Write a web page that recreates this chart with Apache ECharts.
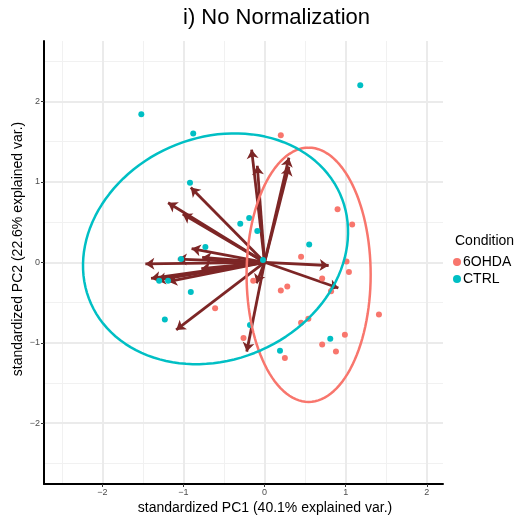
<!DOCTYPE html>
<html>
<head>
<meta charset="utf-8">
<script src="https://cdn.jsdelivr.net/npm/echarts@6/dist/echarts.min.js"></script>
<style>
  html, body { margin: 0; padding: 0; background: #fff; }
  #chart { width: 518px; height: 520px; }
</style>
</head>
<body>
<div id="chart"></div>
<script>
// groups
const groups = ['6OHDA', 'CTRL'];

// sample scores (PC1, PC2)
const ohdaPC1 = [0.20, 0.90, 1.08, 0.45, 1.01, 1.04, 0.71, 0.28, 0.20, 0.82, -0.14, 1.41, 0.54, 0.45, 0.99, 0.71, 0.88, 0.25, -0.26, -0.61];
const ohdaPC2 = [1.58, 0.66, 0.47, 0.07, 0.01, -0.12, -0.20, -0.30, -0.35, -0.36, -0.23, -0.65, -0.70, -0.75, -0.90, -1.02, -1.11, -1.19, -0.94, -0.57];
const ctrlPC1 = [-1.52, -0.88, 1.18, -0.92, -0.30, -0.19, -0.09, -0.73, -1.03, -0.02, 0.55, -1.30, -1.19, -0.91, -1.23, -0.18, 0.81, 0.19];
const ctrlPC2 = [1.84, 1.60, 2.20, 0.99, 0.48, 0.55, 0.39, 0.19, 0.04, 0.03, 0.22, -0.23, -0.23, -0.37, -0.71, -0.78, -0.95, -1.10];

// variable loadings (arrow tips)
const loadPC1 = [-0.16, -0.09, 0.30, 0.30, -1.19, -1.01, -0.91, -0.90, -1.07, -1.47, -1.40, -1.33, -1.19, -0.78, -0.77, -1.09, -0.22, -0.10, 0.79, 0.91];
const loadPC2 = [1.40, 1.20, 1.30, 1.19, 0.74, 0.60, 0.93, 0.17, 0.04, -0.02, -0.20, -0.22, -0.24, -0.08, 0.06, -0.84, -1.11, -0.26, -0.04, -0.32];

// group ellipses: centre x, centre y, semi-axis a, semi-axis b, angle (deg)
const ohdaEllipse = [0.543, -0.155, 1.58, 0.765, 90];
const ctrlEllipse = [-0.605, 0.168, 1.68, 1.38, 24];

// ticks
const xTicks = [-2, -1, 0, 1, 2];
const yTicks = [-2, -1, 0, 1, 2];
const xMinor = [-2.5, -1.5, -0.5, 0.5, 1.5];
const yMinor = [-2.5, -1.5, -0.5, 0.5, 1.5, 2.5];

const colors = { '6OHDA': '#F8766D', 'CTRL': '#00BFC4' };
const arrowColor = '#7d2626';
const font = '"Liberation Sans", Arial, sans-serif';

function zip(a, b) {
  return a.map((v, i) => [v, b[i]]);
}

function ellipsePoints(e) {
  const [cx, cy, a, b, deg] = e;
  const th = deg * Math.PI / 180;
  const pts = [];
  const n = 120;
  for (let i = 0; i <= n; i++) {
    const t = 2 * Math.PI * i / n;
    pts.push([
      cx + a * Math.cos(t) * Math.cos(th) - b * Math.sin(t) * Math.sin(th),
      cy + a * Math.cos(t) * Math.sin(th) + b * Math.sin(t) * Math.cos(th)
    ]);
  }
  return pts;
}

const minus = v => String(v).replace('-', '\u2212');

// grid lines as markLines
const minorStyle = { color: '#f1f1f1', width: 1, type: 'solid' };
const majorStyle = { color: '#ebebeb', width: 2, type: 'solid' };
const gridLines = [];
xMinor.forEach(v => gridLines.push({ xAxis: v, lineStyle: minorStyle }));
yMinor.forEach(v => gridLines.push({ yAxis: v, lineStyle: minorStyle }));
xTicks.forEach(v => gridLines.push({ xAxis: v, lineStyle: majorStyle }));
yTicks.forEach(v => gridLines.push({ yAxis: v, lineStyle: majorStyle }));

const chart = echarts.init(document.getElementById('chart'));

chart.setOption({
  animation: false,
  backgroundColor: '#fff',
  textStyle: { fontFamily: font },
  title: [
    {
      text: 'i) No Normalization',
      left: 183, top: 7, padding: 0,
      textStyle: { fontSize: 22, fontWeight: 'normal', color: '#000', fontFamily: font }
    },
    {
      text: 'Condition',
      left: 455, top: 234, padding: 0,
      textStyle: { fontSize: 14, fontWeight: 'normal', color: '#000', fontFamily: font }
    }
  ],
  legend: {
    data: groups,
    orient: 'vertical',
    left: 453, top: 255,
    padding: 0,
    icon: 'circle',
    itemWidth: 8, itemHeight: 8,
    itemGap: 3,
    textStyle: { fontSize: 14, color: '#000', lineHeight: 14, fontFamily: font, padding: [0, 0, 0, -3] }
  },
  grid: { left: 44, right: 75, top: 41, bottom: 36 },
  xAxis: {
    type: 'value',
    min: -2.72, max: 2.20,
    z: 10,
    axisLine: { show: true, onZero: false, lineStyle: { color: '#000', width: 2 } },
    axisTick: { show: true, length: 3, customValues: xTicks, lineStyle: { color: '#333' } },
    axisLabel: { customValues: xTicks, fontSize: 9, color: '#4d4d4d', margin: 4, formatter: minus },
    splitLine: { show: false }
  },
  yAxis: {
    type: 'value',
    min: -2.755, max: 2.75,
    z: 10,
    axisLine: { show: true, onZero: false, lineStyle: { color: '#000', width: 2 } },
    axisTick: { show: true, length: 3, customValues: yTicks, lineStyle: { color: '#333' } },
    axisLabel: { customValues: yTicks, fontSize: 9, color: '#4d4d4d', margin: 4, formatter: minus },
    splitLine: { show: false }
  },
  graphic: [
    {
      type: 'text', x: 265, y: 508,
      style: { text: 'standardized PC1 (40.1% explained var.)', font: '14px ' + font, fill: '#000', align: 'center', verticalAlign: 'middle' }
    },
    {
      type: 'text', x: 18, y: 249, rotation: Math.PI / 2,
      style: { text: 'standardized PC2 (22.6% explained var.)', font: '14px ' + font, fill: '#000', align: 'center', verticalAlign: 'middle' }
    }
  ],
  series: [
    {
      name: 'grid',
      type: 'scatter',
      data: [],
      z: 1,
      silent: true,
      markLine: { z: 1, silent: true, symbol: 'none', label: { show: false }, emphasis: { disabled: true }, data: gridLines }
    },
    {
      name: 'loadings',
      type: 'lines',
      coordinateSystem: 'cartesian2d',
      z: 2,
      silent: true,
      symbol: ['none', 'arrow'],
      symbolSize: 9,
      lineStyle: { color: arrowColor, width: 2.8, opacity: 1 },
      data: loadPC1.map((x, i) => ({ coords: [[0, 0], [x, loadPC2[i]]] }))
    },
    {
      name: '6OHDA',
      type: 'scatter',
      z: 3,
      symbolSize: 6,
      itemStyle: { color: colors['6OHDA'], opacity: 1 },
      data: zip(ohdaPC1, ohdaPC2)
    },
    {
      name: 'CTRL',
      type: 'scatter',
      z: 3,
      symbolSize: 6,
      itemStyle: { color: colors['CTRL'], opacity: 1 },
      data: zip(ctrlPC1, ctrlPC2)
    },
    {
      name: '6OHDA ellipse',
      type: 'line',
      z: 4,
      silent: true,
      showSymbol: false,
      lineStyle: { color: colors['6OHDA'], width: 2.5 },
      data: ellipsePoints(ohdaEllipse)
    },
    {
      name: 'CTRL ellipse',
      type: 'line',
      z: 4,
      silent: true,
      showSymbol: false,
      lineStyle: { color: colors['CTRL'], width: 2.5 },
      data: ellipsePoints(ctrlEllipse)
    }
  ]
});
</script>
</body>
</html>
